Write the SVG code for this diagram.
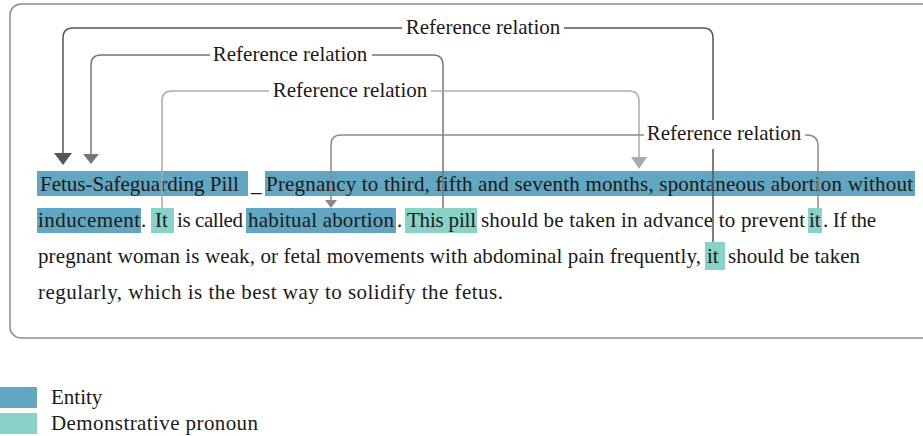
<svg xmlns="http://www.w3.org/2000/svg" width="923" height="436" viewBox="0 0 923 436">
  <style>
    text { font-family: "Liberation Serif", "Times New Roman", serif; font-size: 21px; fill: #1a1a1a; }
    .entity { fill: #62a7c1; }
    .pronoun { fill: #88d2c7; }
    .frame { fill: none; stroke: #8c8c8c; stroke-width: 1.5; }
    .link { fill: none; stroke-width: 1.5; }
    .labelbg { fill: #ffffff; }
    .lbl { text-anchor: middle; }
  </style>

  <!-- panel frame -->
  <rect class="frame" x="10" y="4" width="930" height="334" rx="11" ry="11"/>

  <!-- highlighted spans -->
  <g id="entity-fetus-pill">
    <rect class="entity" x="37" y="171" width="211" height="25"/>
    <text x="40" y="191">Fetus-Safeguarding Pill</text>
  </g>
  <g id="entity-pregnancy">
    <rect class="entity" x="265" y="171" width="650" height="25"/>
    <rect class="entity" x="37" y="208" width="104" height="25"/>
    <text x="266" y="191" textLength="647">Pregnancy to third, fifth and seventh months, spontaneous abortion without</text>
    <text x="38" y="227" textLength="102">inducement</text>
  </g>
  <g id="pronoun-it-1">
    <rect class="pronoun" x="151" y="208" width="23" height="25"/>
    <text x="155" y="227">It</text>
  </g>
  <g id="entity-habitual-abortion">
    <rect class="entity" x="246" y="208" width="150" height="25"/>
    <text x="248" y="227" textLength="146">habitual abortion</text>
  </g>
  <g id="pronoun-this-pill">
    <rect class="pronoun" x="405" y="208" width="72" height="25"/>
    <text x="407" y="227" textLength="69">This pill</text>
  </g>
  <g id="pronoun-it-2">
    <rect class="pronoun" x="808" y="208" width="14" height="25"/>
    <text x="809" y="227">it</text>
  </g>
  <g id="pronoun-it-3">
    <rect class="pronoun" x="705" y="242" width="20" height="28"/>
    <text x="707" y="263">it</text>
  </g>

  <!-- plain running text -->
  <g id="plain-text">
    <text x="251" y="191">_</text>
    <text x="141" y="227">.</text>
    <text x="177" y="227" textLength="66">is called</text>
    <text x="397" y="227">.</text>
    <text x="481" y="227" textLength="324">should be taken in advance to prevent</text>
    <text x="823" y="227" textLength="53">. If the</text>
    <text x="38" y="263" textLength="663">pregnant woman is weak, or fetal movements with abdominal pain frequently,</text>
    <text x="728" y="263" textLength="132">should be taken</text>
    <text x="38" y="299" textLength="465">regularly, which is the best way to solidify the fetus.</text>
  </g>

  <!-- reference relations -->
  <g id="connectors">
    <path class="link" stroke="#555555" d="M713 242 V38 Q713 28 703 28 H73 Q63 28 63 38 V154"/>
    <polygon fill="#555555" points="54,153 72,153 63,165"/>

    <path class="link" stroke="#777777" d="M443 208 V65 Q443 55 433 55 H101 Q91 55 91 65 V155"/>
    <polygon fill="#777777" points="83,154 99,154 91,164"/>

    <path class="link" stroke="#ababab" d="M162 208 V101 Q162 91 172 91 H629 Q639 91 639 101 V158"/>
    <polygon fill="#ababab" points="631,157 647,157 639,169"/>

    <path class="link" stroke="#8a8a8a" d="M818 208 V146 Q818 135 807 135 H341 Q331 135 331 145 V201"/>
    <polygon fill="#8a8a8a" points="325,200 337,200 331,208"/>

    <g id="relation-labels">
      <rect class="labelbg" x="402" y="16" width="162" height="24"/>
      <text class="lbl" x="483" y="34">Reference relation</text>
      <rect class="labelbg" x="210" y="43" width="162" height="24"/>
      <text class="lbl" x="290" y="61">Reference relation</text>
      <rect class="labelbg" x="269" y="79" width="162" height="24"/>
      <text class="lbl" x="350" y="97">Reference relation</text>
      <rect class="labelbg" x="644" y="120" width="161" height="29"/>
      <text class="lbl" x="724" y="140">Reference relation</text>
    </g>
  </g>

  <!-- legend -->
  <g id="legend">
    <rect class="entity" x="0" y="387" width="37" height="21"/>
    <text x="51" y="404">Entity</text>
    <rect class="pronoun" x="0" y="413" width="37" height="21"/>
    <text x="51" y="430" textLength="207">Demonstrative pronoun</text>
  </g>
</svg>
